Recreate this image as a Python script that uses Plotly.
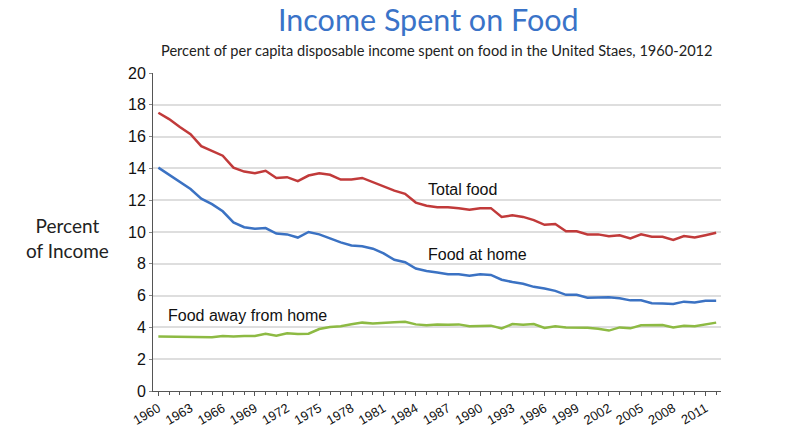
import plotly.graph_objects as go

years = list(range(1960, 2013))

total_food = [17.5, 17.1, 16.6, 16.15, 15.4, 15.1, 14.8, 14.05, 13.8, 13.7,
              13.85, 13.4, 13.45, 13.2, 13.55, 13.7, 13.6, 13.3, 13.3, 13.4,
              13.15, 12.9, 12.6, 12.4, 11.85, 11.65, 11.55, 11.55, 11.5, 11.4,
              11.5, 11.5, 10.95, 11.05, 10.95, 10.75, 10.45, 10.5, 10.05, 10.05,
              9.85, 9.85, 9.73, 9.8, 9.6, 9.85, 9.7, 9.7, 9.5, 9.75,
              9.65, 9.8, 9.95]

food_at_home = [14.05, 13.6, 13.15, 12.7, 12.1, 11.75, 11.3, 10.6, 10.3, 10.2,
                10.25, 9.9, 9.85, 9.65, 10.0, 9.85, 9.6, 9.35, 9.15, 9.1,
                8.95, 8.65, 8.25, 8.1, 7.7, 7.55, 7.45, 7.35, 7.35, 7.25,
                7.35, 7.3, 7.0, 6.85, 6.75, 6.55, 6.45, 6.3, 6.05, 6.05,
                5.87, 5.9, 5.9, 5.83, 5.7, 5.7, 5.52, 5.5, 5.47, 5.62,
                5.57, 5.67, 5.67]

food_away = [3.42, 3.42, 3.42, 3.42, 3.38, 3.38, 3.46, 3.42, 3.46, 3.46,
             3.6, 3.48, 3.63, 3.58, 3.6, 3.9, 4.02, 4.07, 4.2, 4.3,
             4.25, 4.27, 4.32, 4.36, 4.19, 4.13, 4.19, 4.17, 4.19, 4.07,
             4.09, 4.11, 3.94, 4.21, 4.17, 4.21, 3.96, 4.07, 4.0, 4.0,
             3.98, 3.92, 3.8, 4.0, 3.94, 4.13, 4.15, 4.15, 4.0, 4.11,
             4.07, 4.17, 4.3]

x_tick_years = list(range(1960, 2012, 3))
x_tick_labels = [str(y) for y in x_tick_years]
y_tick_values = list(range(0, 21, 2))

series = [
    ("Total food", total_food, "#c13a3a"),
    ("Food at home", food_at_home, "#3b72c3"),
    ("Food away from home", food_away, "#8dba43"),
]

fig = go.Figure()
for name, vals, color in series:
    fig.add_trace(go.Scatter(x=years, y=vals, mode="lines", name=name,
                             line=dict(color=color, width=2.5)))

label_font = dict(family="Liberation Sans, Arial", size=16, color="#111")
fig.add_annotation(x=1984.95, y=12.7, xref="x", yref="y", text="Total food",
                   showarrow=False, xanchor="left", yanchor="middle", font=label_font)
fig.add_annotation(x=1984.95, y=8.6, xref="x", yref="y", text="Food at home",
                   showarrow=False, xanchor="left", yanchor="middle", font=label_font)
fig.add_annotation(x=1960.7, y=4.72, xref="x", yref="y", text="Food away from home",
                   showarrow=False, xanchor="left", yanchor="middle", font=label_font)

fig.add_annotation(x=0.485, y=1.17, xref="paper", yref="paper",
                   text="Income Spent on Food", showarrow=False,
                   xanchor="center", yanchor="middle", borderpad=0,
                   font=dict(family="Lato", size=30.5, color="#3a73c8"))
fig.add_annotation(x=0.5, y=1.071, xref="paper", yref="paper",
                   text="Percent of per capita disposable income spent on food in the United Staes, 1960-2012",
                   showarrow=False, xanchor="center", yanchor="middle",
                   font=dict(family="Lato", size=14.6, color="#222"))
fig.add_annotation(x=-0.15, y=0.482, xref="paper", yref="paper",
                   text="Percent<br>of Income", showarrow=False,
                   xanchor="center", yanchor="middle", align="center",
                   font=dict(family="Lato", size=19, color="#222"))

fig.update_layout(
    width=792, height=421,
    margin=dict(l=145, r=79, t=65, b=38, autoexpand=False),
    paper_bgcolor="white", plot_bgcolor="white",
    showlegend=False,
    xaxis=dict(
        range=[1959.5, 2012.45], automargin=False,
        tickmode="array", tickvals=x_tick_years, ticktext=x_tick_labels,
        tickangle=-30, ticks="outside", ticklen=4, tickcolor="#555",
        tickfont=dict(family="Liberation Sans, Arial", size=13, color="#111"),
        showgrid=False, zeroline=False,
        showline=True, linecolor="#555", linewidth=1,
        minor=dict(dtick=1, tick0=1960, ticks="outside", ticklen=3,
                   tickcolor="#555", showgrid=False),
    ),
    yaxis=dict(
        range=[0, 20], automargin=False, tickmode="array", tickvals=y_tick_values,
        ticks="outside", ticklen=3, tickcolor="#888",
        tickfont=dict(family="Liberation Sans, Arial", size=16, color="#111"),
        showgrid=True, gridcolor="#dedede", gridwidth=1.5,
        zeroline=False, showline=True, linecolor="#555", linewidth=1,
    ),
)

fig.write_html("out.html")
